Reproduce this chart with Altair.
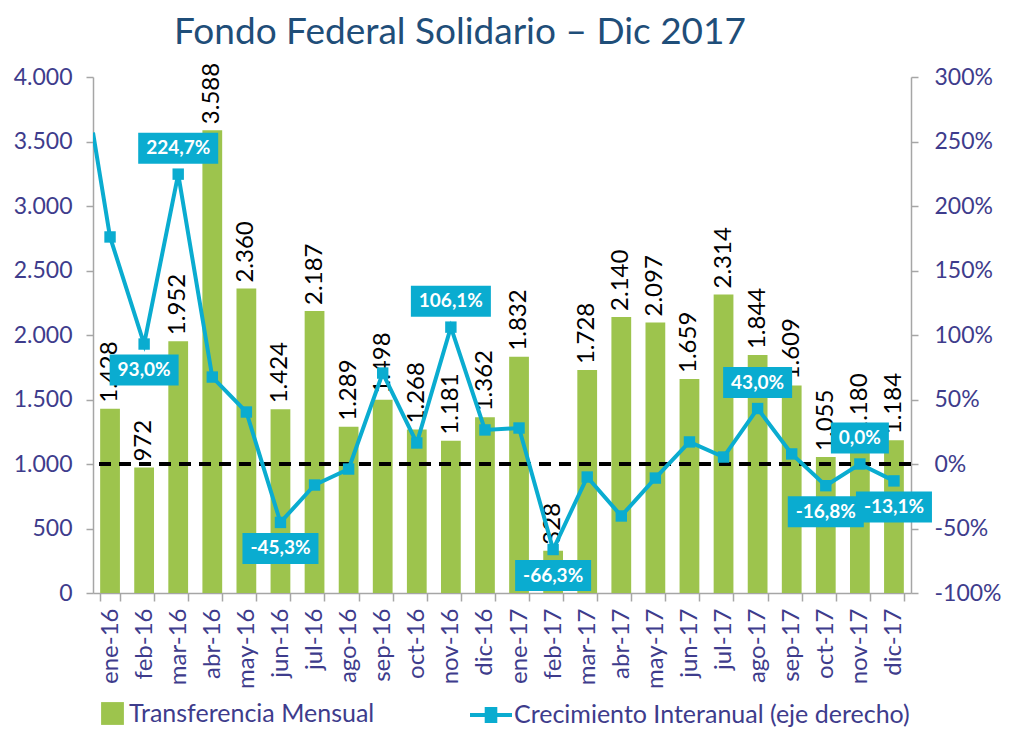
import altair as alt
import pandas as pd

# Meses del período
meses = ["ene-16", "feb-16", "mar-16", "abr-16", "may-16", "jun-16",
         "jul-16", "ago-16", "sep-16", "oct-16", "nov-16", "dic-16",
         "ene-17", "feb-17", "mar-17", "abr-17", "may-17", "jun-17",
         "jul-17", "ago-17", "sep-17", "oct-17", "nov-17", "dic-17"]

# Transferencia mensual (millones de $)
transferencia = [1428, 972, 1952, 3588, 2360, 1424, 2187, 1289, 1498, 1268, 1181, 1362,
                 1832, 328, 1728, 2140, 2097, 1659, 2314, 1844, 1609, 1055, 1180, 1184]

# Crecimiento interanual (%)
crecimiento = [176.0, 93.0, 224.7, 67.4, 40.3, -45.3, -16.3, -3.9, 70.5, 16.3, 106.1, 26.4,
               27.9, -66.3, -10.1, -40.3, -10.9, 17.1, 5.4, 43.0, 7.8, -16.8, 0.0, -13.1]

# Nivel con que la línea entra por el borde izquierdo (tramo que viene de dic-15)
crecimiento_borde = 257.0

# Meses con etiqueta de crecimiento y su ubicación respecto del punto
etiquetas_crec = {"feb-16": "abajo", "mar-16": "arriba", "jun-16": "abajo",
                  "nov-16": "arriba", "feb-17": "abajo", "ago-17": "arriba",
                  "oct-17": "abajo", "nov-17": "arriba", "dic-17": "abajo"}

VERDE = "#9DC44D"
CIAN = "#0AACD0"
AZUL_EJES = "#3E3C8C"
GRIS = "#A6A6A6"
FUENTE = "Lato"

SERIE_B = "Transferencia Mensual"
SERIE_L = "Crecimiento Interanual (eje derecho)"

df_barras = pd.DataFrame({
    "mes": meses,
    "transferencia": transferencia,
    "etiqueta": [f"{v:,}".replace(",", ".") for v in transferencia],
    "serie": SERIE_B,
})

df_linea = pd.DataFrame({
    "idx": [-0.5] + list(range(len(meses))),
    "crecimiento": [crecimiento_borde] + crecimiento,
    "serie": SERIE_L,
})
df_puntos = df_linea[df_linea["idx"] >= 0]


def ancho_caja(txt):
    # ancho aproximado de la caja según el texto en negrita
    w = 14
    for c in txt:
        if c.isdigit():
            w += 11
        elif c == ",":
            w += 5
        elif c == "%":
            w += 17
        else:
            w += 7
    return w


filas = []
for mes, pos in etiquetas_crec.items():
    i = meses.index(mes)
    v = crecimiento[i]
    txt = f"{v:.1f}".replace(".", ",") + "%"
    w = ancho_caja(txt)
    h = 31 / w
    filas.append({
        "idx": i,
        "crecimiento": v,
        "texto": txt,
        "pos": pos,
        "area": w * w,
        "forma": f"M-1,{-h:.4f}L1,{-h:.4f}L1,{h:.4f}L-1,{h:.4f}Z",
    })
df_etq = pd.DataFrame(filas)

# ---------- Barras (eje izquierdo) ----------
eje_x = alt.X(
    "mes:N", sort=meses,
    scale=alt.Scale(paddingInner=0.42, paddingOuter=0.21),
    axis=alt.Axis(title=None, labelAngle=270, tickBand="extent", labelFont=FUENTE,
                  labelFontSize=24, labelColor=AZUL_EJES, labelPadding=7,
                  domainColor=GRIS, domainWidth=1.5, tickColor=GRIS, tickWidth=1.5,
                  tickSize=8),
)
eje_y_izq = alt.Y(
    "transferencia:Q",
    scale=alt.Scale(domain=[0, 4000], nice=False),
    axis=alt.Axis(title=None, values=list(range(0, 4001, 500)),
                  labelExpr="replace(format(datum.value, ','), ',', '.')",
                  grid=False, domainColor=GRIS, domainWidth=1.5, tickColor=GRIS,
                  tickWidth=1.5, tickSize=7, labelFont=FUENTE, labelFontSize=23,
                  labelColor=AZUL_EJES, labelPadding=14),
)

base_b = alt.Chart(df_barras).encode(x=eje_x, y=eje_y_izq)

barras = base_b.mark_bar(opacity=1).encode(
    color=alt.Color("serie:N", scale=alt.Scale(domain=[SERIE_B], range=[VERDE]),
                    legend=alt.Legend(title=None, orient="none", legendX=7, legendY=624,
                                      symbolType="square", symbolSize=520,
                                      symbolStrokeWidth=0, labelFont=FUENTE,
                                      labelFontSize=25, labelColor=AZUL_EJES,
                                      labelLimit=400, labelOffset=4))
)

linea_cero = alt.Chart(df_barras).mark_rule(
    color="black", strokeWidth=3, strokeDash=[12, 8]
).encode(y=alt.datum(1000))

etq_barras = base_b.mark_text(
    angle=270, align="left", baseline="middle", dx=6, font=FUENTE, fontSize=24,
    color="black"
).encode(text="etiqueta:N")

capa_barras = alt.layer(barras, linea_cero, etq_barras)

# ---------- Línea de crecimiento (eje derecho) ----------
escala_x_l = alt.Scale(domain=[-0.5, len(meses) - 0.5], nice=False, zero=False)
escala_y_der = alt.Scale(domain=[-100, 300], nice=False, zero=False)

eje_y_der = alt.Axis(title=None, orient="right", values=list(range(-100, 301, 50)),
                     labelExpr="datum.value + '%'", grid=False, domainColor=GRIS,
                     domainWidth=1.5, tickColor=GRIS, tickWidth=1.5, tickSize=7,
                     labelFont=FUENTE, labelFontSize=23, labelColor=AZUL_EJES,
                     labelPadding=16)

simbolo_linea = ("M-1,0L1,0M-0.3,-0.28L0.3,-0.28M-0.3,-0.14L0.3,-0.14"
                 "M-0.3,0L0.3,0M-0.3,0.14L0.3,0.14M-0.3,0.28L0.3,0.28")

linea = alt.Chart(df_linea).mark_line(strokeWidth=4, clip=True).encode(
    x=alt.X("idx:Q", scale=escala_x_l, axis=None),
    y=alt.Y("crecimiento:Q", scale=escala_y_der, axis=eje_y_der),
    color=alt.Color("serie:N", scale=alt.Scale(domain=[SERIE_L], range=[CIAN]),
                    legend=alt.Legend(title=None, orient="none", legendX=375, legendY=615,
                                      symbolType=simbolo_linea, symbolSize=1764,
                                      symbolStrokeWidth=4, labelFont=FUENTE,
                                      labelFontSize=25, labelColor=AZUL_EJES,
                                      labelLimit=500, labelOffset=0)),
)

puntos = alt.Chart(df_puntos).mark_point(
    shape="square", filled=True, size=130, color=CIAN, opacity=1, clip=True
).encode(
    x=alt.X("idx:Q", scale=escala_x_l, axis=None),
    y=alt.Y("crecimiento:Q", scale=escala_y_der),
)


def capa_etiquetas(pos, desplaz):
    datos = df_etq[df_etq["pos"] == pos]
    enc = dict(x=alt.X("idx:Q", scale=escala_x_l, axis=None),
               y=alt.Y("crecimiento:Q", scale=escala_y_der))
    caja = alt.Chart(datos).mark_point(
        filled=True, opacity=1, color=CIAN, strokeWidth=0, yOffset=desplaz
    ).encode(shape=alt.Shape("forma:N", scale=None),
             size=alt.Size("area:Q", scale=None), **enc)
    texto = alt.Chart(datos).mark_text(
        color="white", font=FUENTE, fontWeight="bold", fontSize=19,
        dy=desplaz, baseline="middle", align="center"
    ).encode(text="texto:N", **enc)
    return [caja, texto]


capa_linea = alt.layer(linea, puntos,
                       *capa_etiquetas("abajo", 26), *capa_etiquetas("arriba", -26))

chart = alt.layer(capa_barras, capa_linea).resolve_scale(
    x="independent", y="independent", color="independent"
).properties(
    width=818, height=516,
    title=alt.TitleParams("Fondo Federal Solidario – Dic 2017", font=FUENTE,
                          fontSize=37, fontWeight="normal", color="#1F4E79",
                          anchor="middle", dx=-42, dy=34, offset=16,
                          baseline="alphabetic"),
    padding={"left": 93, "top": 77, "right": 113, "bottom": 137},
    autosize=alt.AutoSizeParams(type="none"),
).configure_view(stroke=None)

chart.save("out.html", embed_options={"renderer": "svg", "actions": False})
